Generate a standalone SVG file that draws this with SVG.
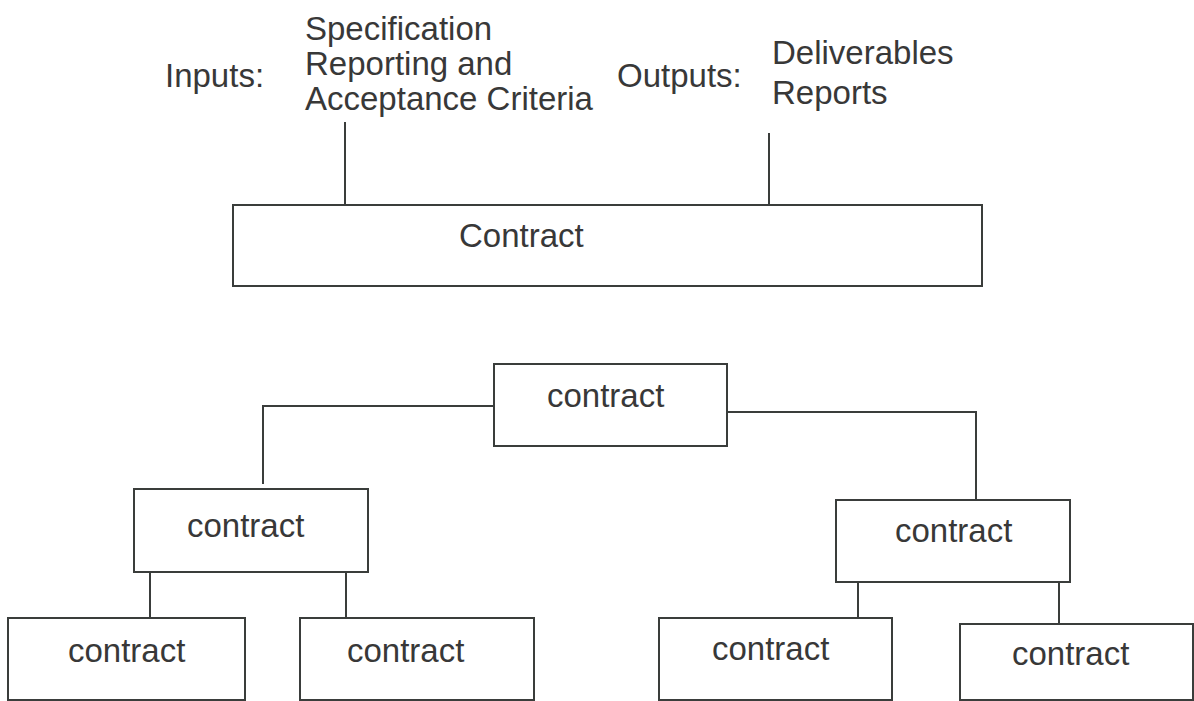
<svg xmlns="http://www.w3.org/2000/svg" width="1194" height="701" viewBox="0 0 1194 701">
<style>
  .box { fill: #ffffff; stroke: #3a3d3b; stroke-width: 2; }
  .line { fill: none; stroke: #3a3d3b; stroke-width: 2; }
  .t { font-family: "Liberation Sans", Arial, sans-serif; font-size: 33px; fill: #383838; }
</style>
<rect width="1194" height="701" fill="#ffffff"/>
<g id="labels">
  <text class="t" x="165" y="87">Inputs:</text>
  <text class="t" x="305" y="40">Specification</text>
  <text class="t" x="305" y="75">Reporting and</text>
  <text class="t" x="305" y="110">Acceptance Criteria</text>
  <text class="t" x="617" y="87">Outputs:</text>
  <text class="t" x="772" y="64">Deliverables</text>
  <text class="t" x="772" y="104">Reports</text>
</g>
<g id="connectors">
  <line class="line" x1="345" y1="122" x2="345" y2="205"/>
  <line class="line" x1="769" y1="133" x2="769" y2="205"/>
  <polyline class="line" points="494,406 263,406 263,484"/>
  <polyline class="line" points="727,412 976,412 976,500"/>
  <line class="line" x1="150" y1="572" x2="150" y2="618"/>
  <line class="line" x1="346" y1="572" x2="346" y2="618"/>
  <line class="line" x1="858" y1="582" x2="858" y2="618"/>
  <line class="line" x1="1059" y1="582" x2="1059" y2="624"/>
</g>
<g id="node-contract-main">
  <rect class="box" x="233" y="205" width="749" height="81"/>
  <text class="t" x="459" y="247">Contract</text>
</g>
<g id="node-top">
  <rect class="box" x="494" y="364" width="233" height="82"/>
  <text class="t" x="547" y="407">contract</text>
</g>
<g id="node-left">
  <rect class="box" x="134" y="489" width="234" height="83"/>
  <text class="t" x="187" y="537">contract</text>
</g>
<g id="node-right">
  <rect class="box" x="836" y="500" width="234" height="82"/>
  <text class="t" x="895" y="542">contract</text>
</g>
<g id="node-ll">
  <rect class="box" x="8" y="618" width="237" height="82"/>
  <text class="t" x="68" y="662">contract</text>
</g>
<g id="node-lr">
  <rect class="box" x="300" y="618" width="234" height="82"/>
  <text class="t" x="347" y="662">contract</text>
</g>
<g id="node-rl">
  <rect class="box" x="659" y="618" width="233" height="82"/>
  <text class="t" x="712" y="660">contract</text>
</g>
<g id="node-rr">
  <rect class="box" x="960" y="624" width="233" height="76"/>
  <text class="t" x="1012" y="665">contract</text>
</g>
</svg>
